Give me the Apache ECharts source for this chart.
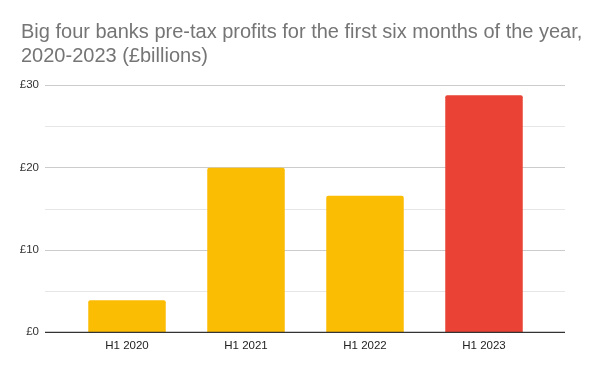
<!DOCTYPE html>
<html><head><meta charset="utf-8">
<script src="https://cdn.jsdelivr.net/npm/echarts@6/dist/echarts.min.js"></script>
<style>html,body{margin:0;padding:0;background:#fff}#c{width:600px;height:371px}</style>
</head><body><div id="c"></div>
<script>
const titleText = 'Big four banks pre-tax profits for the first six months of the year,\n2020-2023 (£billions)';
const categories = ['H1 2020', 'H1 2021', 'H1 2022', 'H1 2023'];
const profits = [3.9, 20.0, 16.6, 28.8];
const barColors = ['#fbbc04', '#fbbc04', '#fbbc04', '#ea4335'];
const yTicks = [0, 10, 20, 30];

const chart = echarts.init(document.getElementById('c'), null, {renderer: 'canvas'});
const gridTop = 85.3, gridBottom = 371 - 332.3;
chart.setOption({
  animation: false,
  title: {
    text: titleText, left: 16, top: 16,
    textStyle: {fontFamily: 'Liberation Sans, Arial, sans-serif', fontSize: 20, fontWeight: 'normal', color: '#757575', lineHeight: 23.5}
  },
  grid: [
    {left: 45, right: 35, top: gridTop, bottom: gridBottom},
    {left: 67.5, right: 56.5, top: gridTop, bottom: gridBottom}
  ],
  xAxis: [
    {gridIndex: 0, type: 'value', min: 0, max: 1, show: false},
    {gridIndex: 1, type: 'category', data: categories, boundaryGap: true,
     axisLine: {show: false}, axisTick: {show: false},
     axisLabel: {color: '#222', fontSize: 11.5, fontFamily: 'Liberation Sans, Arial, sans-serif', margin: 8}}
  ],
  yAxis: [
    {gridIndex: 0, type: 'value', min: 0, max: yTicks[yTicks.length-1], interval: 5,
     axisLine: {show: false}, axisTick: {show: false},
     axisLabel: {color: '#333', fontSize: 11.5, fontFamily: 'Liberation Sans, Arial, sans-serif', margin: 6,
       formatter: v => yTicks.indexOf(v) >= 0 ? '£' + v : ''},
     splitLine: {show: true, lineStyle: {color: ['#cccccc', '#e6e6e6', '#cccccc', '#e6e6e6', '#cccccc', '#e6e6e6', '#cccccc'], width: 1}}
    },
    {gridIndex: 1, type: 'value', min: 0, max: yTicks[yTicks.length-1], show: false}
  ],
  series: [
    {type: 'bar', xAxisIndex: 1, yAxisIndex: 1, barWidth: 77.5,
     data: profits.map((v, i) => ({value: v, itemStyle: {color: barColors[i], borderRadius: [2, 2, 0, 0]}}))},
    {type: 'line', xAxisIndex: 0, yAxisIndex: 0, data: [[0, 0], [1, 0]], symbol: 'none',
     lineStyle: {color: '#333', width: 1.2}, silent: true, z: 5}
  ]
});
</script></body></html>
